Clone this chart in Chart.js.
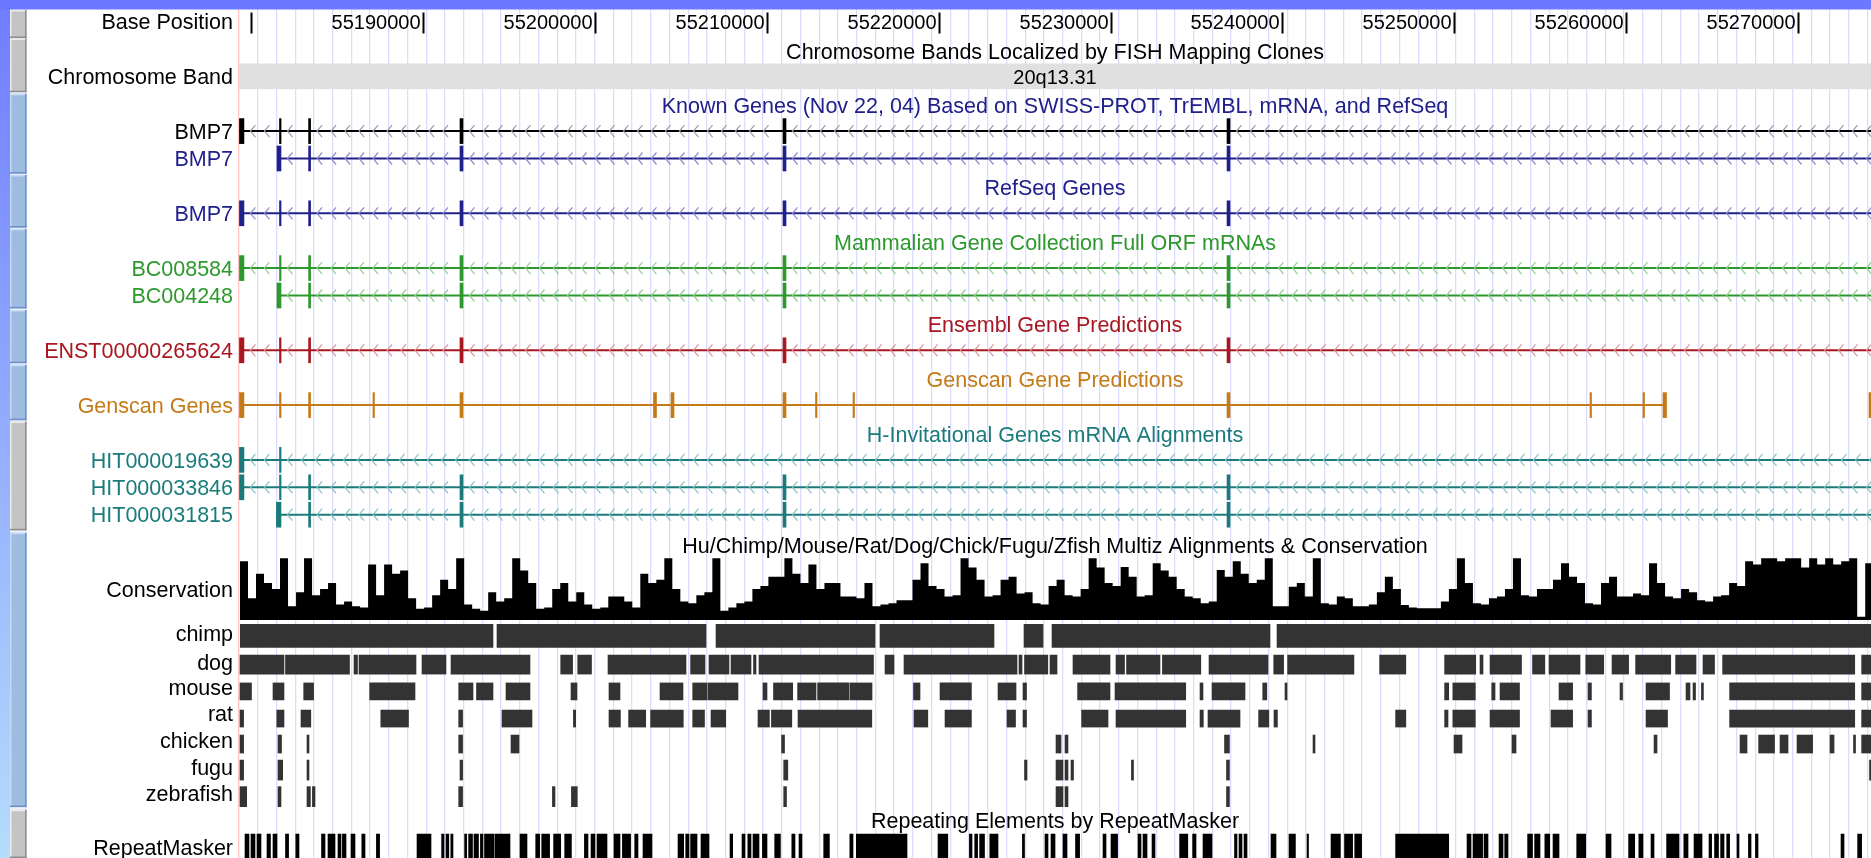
<!DOCTYPE html>
<html>
<head>
<meta charset="utf-8">
<script src="https://cdn.jsdelivr.net/npm/chart.js@4.4.1/dist/chart.umd.min.js"></script>
<style>
  html, body { margin: 0; padding: 0; background: #fff; overflow: hidden; }
  #wrap { width: 1871px; height: 858px; position: relative; }
</style>
</head>
<body>
<div id="wrap"><canvas id="browser"></canvas></div>
<script>
// window shown, chr20 (bp)
const viewStart = 55179273;
const viewEnd = 55274265;
const baseTicks = [55180000, 55190000, 55200000, 55210000, 55220000, 55230000, 55240000, 55250000, 55260000, 55270000];
const guideStep = 1089.5;

// cytoband
const bandName = '20q13.31';
const bandRange = [55000000, 55400000];

// gene models, exon blocks [start, end]
const bmp7Exons = [[55179300, 55179560], [55181630, 55181720], [55183324, 55183440], [55192136, 55192311], [55210937, 55211112], [55236781, 55236956]];
const bmp7ShortExons = [[55181484, 55181717], [55183324, 55183440], [55192136, 55192311], [55210937, 55211112], [55236781, 55236956]];
const bmp7TxEnd = 55275600;
const hit19639Exons = [[55179300, 55179560], [55181630, 55181720]];
const hit31815Exons = [[55181450, 55181717], [55183324, 55183440], [55192136, 55192311], [55210937, 55211112], [55236781, 55236956]];
const genscanExons = [[55179300, 55179560], [55181630, 55181720], [55183324, 55183440], [55187072, 55187159], [55192136, 55192311],
  [55203399, 55203574], [55204418, 55204593], [55210937, 55211112], [55212829, 55212916], [55215012, 55215099],
  [55236781, 55236956], [55257910, 55257997], [55260995, 55261082], [55262159, 55262363]];
const genscanNextExons = [[55274150, 55274400]];
const genscanNextEnd = 55276000;

// conservation score, one value per bin
const consStart = 55179331;
const consStep = 466;
const consValues = [
  0.95, 0.35, 0.75, 0.6, 0.5, 1.0, 0.22, 0.45, 1.0, 0.4, 0.5, 0.6, 0.25, 0.3, 0.22, 0.2, 0.9,
  0.4, 0.9, 0.75, 0.8, 0.35, 0.18, 0.2, 0.4, 0.65, 0.5, 1.0, 0.25, 0.18, 0.15, 0.45, 0.3,
  0.35, 1.0, 0.8, 0.6, 0.18, 0.2, 0.5, 0.6, 0.3, 0.45, 0.25, 0.18, 0.2, 0.38, 0.38, 0.3,
  0.2, 0.75, 0.6, 0.65, 1.0, 0.5, 0.3, 0.27, 0.4, 0.45, 1.0, 0.15, 0.2, 0.27, 0.3, 0.5,
  0.55, 0.7, 0.7, 1.0, 0.75, 0.6, 0.9, 0.5, 0.6, 0.6, 0.38, 0.38, 0.35, 0.6, 0.22, 0.25,
  0.27, 0.32, 0.32, 0.65, 0.92, 0.55, 0.5, 0.38, 0.4, 1.0, 0.85, 0.65, 0.38, 0.4, 0.65, 0.7,
  0.43, 0.45, 0.27, 0.25, 0.55, 0.65, 0.4, 0.38, 0.5, 1.0, 0.85, 0.6, 0.55, 0.86, 0.7, 0.38,
  0.4, 0.92, 0.8, 0.7, 0.5, 0.38, 0.35, 0.27, 0.3, 0.81, 0.7, 0.95, 0.75, 0.6, 0.65, 1.0,
  0.22, 0.22, 0.54, 0.6, 0.38, 1.0, 0.27, 0.25, 0.38, 0.35, 0.22, 0.22, 0.25, 0.45, 0.7, 0.5,
  0.24, 0.2, 0.19, 0.19, 0.19, 0.3, 0.5, 1.0, 0.6, 0.27, 0.25, 0.35, 0.38, 0.5, 1.0, 0.4,
  0.38, 0.5, 0.5, 0.65, 0.92, 0.7, 0.6, 0.27, 0.25, 0.6, 0.7, 0.38, 0.38, 0.43, 0.4, 0.92,
  0.6, 0.38, 0.35, 0.5, 0.45, 0.32, 0.3, 0.38, 0.4, 0.6, 0.55, 0.95, 0.9, 1.0, 1.0, 0.95,
  1.0, 1.0, 0.85, 1.0, 0.9, 1.0, 0.9, 0.95, 1.0, 0.05, 0.92
];

// multiz alignment blocks [start, end]
const chimpBlocks = [[55179350, 55194057], [55194290, 55206455], [55207038, 55216292], [55216583, 55223219],
  [55224965, 55226071], [55226595, 55239284], [55239692, 55275000]];
const dogBlocks = [[55179331, 55181892], [55181979, 55185705], [55185967, 55186171], [55186258, 55189575],
  [55189925, 55191322], [55191613, 55196211], [55197998, 55198691], [55198988, 55199791], [55200751, 55205291],
  [55205559, 55206397], [55206630, 55207794], [55207911, 55209075], [55209220, 55209366], [55209540, 55216205],
  [55216875, 55217398], [55217980, 55224558], [55224674, 55224849], [55224994, 55226351], [55226479, 55226886],
  [55227817, 55229971], [55230320, 55230815], [55230932, 55232881], [55233021, 55235256], [55235734, 55239168],
  [55239500, 55240076], [55240309, 55244168], [55245664, 55247189], [55249447, 55251258], [55251508, 55251682],
  [55252090, 55253923], [55254564, 55255280], [55255524, 55257328], [55257660, 55258708], [55259191, 55260157],
  [55260565, 55262608], [55262893, 55264080], [55264488, 55265157], [55265629, 55273318], [55273720, 55274400]];
const mouseBlocks = [[55179331, 55180000], [55181252, 55181892], [55183039, 55183615], [55186880, 55189517],
  [55192061, 55192893], [55193097, 55194057], [55194814, 55196211], [55198598, 55198947], [55200809, 55201450],
  [55203778, 55205117], [55205681, 55206514], [55206572, 55208318], [55209773, 55210006], [55210384, 55211502],
  [55211787, 55212858], [55212951, 55214779], [55214837, 55216118], [55218533, 55218912], [55220076, 55221904],
  [55223452, 55224500], [55224907, 55225111], [55228085, 55229971], [55230262, 55234378], [55235210, 55235384],
  [55235908, 55237829], [55238859, 55239098], [55240157, 55240274], [55249447, 55249686], [55249925, 55251234],
  [55252189, 55252381], [55252672, 55253807], [55256106, 55256898], [55257794, 55257992], [55259657, 55259802],
  [55261170, 55262538], [55263498, 55263731], [55263906, 55264051], [55264395, 55264511], [55266036, 55273318],
  [55273720, 55274400]];
const ratBlocks = [[55179331, 55179541], [55181473, 55181892], [55182882, 55183452], [55187527, 55189139],
  [55192061, 55192288], [55194581, 55196327], [55198737, 55198871], [55200809, 55201473], [55201950, 55202946],
  [55203231, 55205134], [55205681, 55206368], [55206747, 55207602], [55209482, 55210146], [55210262, 55211450],
  [55211811, 55216106], [55218563, 55219366], [55220367, 55221904], [55223976, 55224471], [55224907, 55225111],
  [55228318, 55229855], [55230320, 55234378], [55235210, 55235402], [55235675, 55237538], [55238621, 55239214],
  [55239517, 55239715], [55246595, 55247189], [55249447, 55249645], [55249925, 55251234], [55252090, 55253807],
  [55255640, 55256898], [55257794, 55257992], [55261170, 55262421], [55266036, 55273318], [55273720, 55274400]];
const chickenBlocks = [[55179331, 55179541], [55181543, 55181747], [55183231, 55183347], [55192061, 55192288],
  [55195105, 55195571], [55210856, 55211025], [55226828, 55227119], [55227352, 55227526], [55236636, 55236921],
  [55241787, 55241904], [55249994, 55250460], [55253370, 55253603], [55261636, 55261810], [55266642, 55267049],
  [55267724, 55268650], [55268970, 55269435], [55269959, 55270867], [55271880, 55272113], [55273248, 55273364],
  [55273720, 55274400]];
const fuguBlocks = [[55179331, 55179541], [55181543, 55181816], [55183231, 55183347], [55192137, 55192288],
  [55210978, 55211217], [55224994, 55225140], [55226828, 55227235], [55227352, 55227526], [55227701, 55227847],
  [55231217, 55231339], [55236752, 55236921], [55274179, 55274400]];
const zebrafishBlocks = [[55179331, 55179721], [55181543, 55181717], [55183231, 55183429], [55183545, 55183697],
  [55192061, 55192288], [55197515, 55197666], [55198621, 55198964], [55210978, 55211141], [55226828, 55227235],
  [55227352, 55227526], [55236752, 55236921]];

// RepeatMasker elements [start, end]
const repeatBlocks = [[55179622, 55179855], [55179971, 55180204], [55180321, 55180553], [55180903, 55181106],
  [55181252, 55181485], [55181979, 55182160], [55182579, 55182765], [55184075, 55184279], [55184453, 55184861],
  [55185035, 55185210], [55185291, 55185501], [55185792, 55186025], [55186421, 55186607], [55187270, 55187457],
  [55189634, 55190449], [55191066, 55191205], [55191322, 55191485], [55191601, 55191729], [55192404, 55192527],
  [55192637, 55192864], [55192951, 55193213], [55193324, 55193475], [55193563, 55194116], [55194174, 55195047],
  [55195629, 55196036], [55196543, 55196776], [55196892, 55197352], [55197585, 55197998], [55198231, 55198621],
  [55199377, 55199587], [55199762, 55199994], [55200111, 55200693], [55201100, 55201450], [55201589, 55202067],
  [55202305, 55202497], [55202788, 55203312], [55204826, 55205157], [55205274, 55205466], [55205559, 55205932],
  [55206164, 55206630], [55207852, 55208009], [55208551, 55208726], [55208889, 55209075], [55209191, 55209540],
  [55209738, 55210006], [55210454, 55210786], [55211450, 55211636], [55211869, 55212043], [55213306, 55213638],
  [55214826, 55215012], [55215204, 55218155], [55219959, 55220530], [55221787, 55221939], [55222096, 55222264],
  [55222381, 55222666], [55222975, 55223452], [55224872, 55224994], [55226188, 55226362], [55226537, 55226770],
  [55227235, 55227468], [55227963, 55228202], [55229564, 55229738], [55230029, 55230413], [55231601, 55231776],
  [55231892, 55232125], [55232416, 55232590], [55234022, 55234500], [55234779, 55234977], [55235384, 55235908],
  [55237218, 55237363], [55237480, 55237654], [55237771, 55237945], [55239342, 55239633], [55240390, 55240763],
  [55241438, 55241525], [55242835, 55243382], [55243621, 55244092], [55244214, 55244616], [55246595, 55249686],
  [55250751, 55250984], [55251100, 55251659], [55251741, 55251973], [55252614, 55252846], [55252945, 55253137],
  [55254278, 55254564], [55254686, 55255000], [55255280, 55255565], [55255757, 55256106], [55257136, 55257660],
  [55258842, 55259133], [55260157, 55260512], [55260751, 55260995], [55261461, 55261636], [55262369, 55263091],
  [55263370, 55263615], [55263964, 55264430], [55264837, 55264989], [55265157, 55265390], [55265512, 55265710],
  [55265867, 55266036], [55266467, 55266583], [55267131, 55267282], [55267539, 55267689], [55272520, 55272695],
  [55273487, 55273720]];

// ---- layout (rows) ----
const W = 1871, H = 858;
const rowTop = 21.5, rowPitch = 27.4;
const yMin = -rowTop / rowPitch, yMax = (H - rowTop) / rowPitch;
const labelRight = 233;
const font = '"Liberation Sans", Arial, sans-serif';

const navy = '#20208c', green = '#2d992d', red = '#a8161f', orange = '#c47b17', teal = '#1b7b7b';

const geneTracks = [
  { row: 4, color: '#000000', arrow: '#9c9cac', exons: bmp7Exons, end: bmp7TxEnd },
  { row: 5, color: navy, arrow: '#8c8cca', exons: bmp7ShortExons, end: bmp7TxEnd },
  { row: 7, color: navy, arrow: '#8c8cca', exons: bmp7Exons, end: bmp7TxEnd },
  { row: 9, color: green, arrow: '#96cc96', exons: bmp7Exons, end: bmp7TxEnd },
  { row: 10, color: green, arrow: '#96cc96', exons: bmp7ShortExons, end: bmp7TxEnd },
  { row: 12, color: red, arrow: '#d9959b', exons: bmp7Exons, end: bmp7TxEnd },
  { row: 14, color: orange, arrow: null, exons: genscanExons, end: genscanExons[genscanExons.length - 1][1] },
  { row: 14, color: orange, arrow: null, exons: genscanNextExons, end: genscanNextEnd },
  { row: 16, color: teal, arrow: '#88c0c0', exons: hit19639Exons, end: bmp7TxEnd },
  { row: 17, color: teal, arrow: '#88c0c0', exons: bmp7Exons, end: bmp7TxEnd },
  { row: 18, color: teal, arrow: '#88c0c0', exons: hit31815Exons, end: bmp7TxEnd }
];

const speciesTracks = [
  { row: 22.42, thick: 23, color: '#333333', blocks: chimpBlocks },
  { row: 23.47, thick: 19, color: '#333333', blocks: dogBlocks },
  { row: 24.45, thick: 17, color: '#333333', blocks: mouseBlocks },
  { row: 25.44, thick: 17, color: '#333333', blocks: ratBlocks },
  { row: 26.37, thick: 18, color: '#333333', blocks: chickenBlocks },
  { row: 27.32, thick: 20, color: '#333333', blocks: fuguBlocks },
  { row: 28.29, thick: 20, color: '#333333', blocks: zebrafishBlocks },
  { row: 30.13, thick: 26, color: '#000000', blocks: repeatBlocks }
];
const consTop = 19.59, consBase = 21.84;

const trackLabels = [
  ['Base Position', 0, '#000'], ['Chromosome Band', 2, '#000'],
  ['BMP7', 4, '#000'], ['BMP7', 5, navy], ['BMP7', 7, navy],
  ['BC008584', 9, green], ['BC004248', 10, green], ['ENST00000265624', 12, red],
  ['Genscan Genes', 14, orange],
  ['HIT000019639', 16, teal], ['HIT000033846', 17, teal], ['HIT000031815', 18, teal],
  ['Conservation', 20.71, '#000'], ['chimp', 22.32, '#000'], ['dog', 23.38, '#000'], ['mouse', 24.29, '#000'],
  ['rat', 25.24, '#000'], ['chicken', 26.22, '#000'], ['fugu', 27.21, '#000'], ['zebrafish', 28.16, '#000'],
  ['RepeatMasker', 30.13, '#000']
];
const trackTitles = [
  ['Chromosome Bands Localized by FISH Mapping Clones', 1.07, '#000'],
  ['Known Genes (Nov 22, 04) Based on SWISS-PROT, TrEMBL, mRNA, and RefSeq', 3.05, navy],
  ['RefSeq Genes', 6.05, navy],
  ['Mammalian Gene Collection Full ORF mRNAs', 8.05, green],
  ['Ensembl Gene Predictions', 11.05, red],
  ['Genscan Gene Predictions', 13.06, orange],
  ['H-Invitational Genes mRNA Alignments', 15.07, teal],
  ['Hu/Chimp/Mouse/Rat/Dog/Chick/Fugu/Zfish Multiz Alignments & Conservation', 19.1, '#000'],
  ['Repeating Elements by RepeatMasker', 29.17, '#000']
];
const sideButtons = [
  [-0.45, 0.6, 'g'], [0.62, 2.58, 'g'], [2.64, 5.55, 'b'], [5.6, 7.52, 'b'], [7.57, 10.47, 'b'],
  [10.53, 12.47, 'b'], [12.53, 14.55, 'b'], [14.6, 18.57, 'g'], [18.66, 28.67, 'b'], [28.77, 32, 'g']
];

// conservation axis so that 0 sits on consBase and 1 on consTop
const rowPx = r => (r - yMin) / (yMax - yMin) * H;
const cp0 = rowPx(consBase), cp1 = rowPx(consTop);
const consMax = cp0 / (cp0 - cp1), consMin = consMax - H / (cp0 - cp1);

// ---- datasets ----
const datasets = [];
const blockData = (list, row) => list.map(b => ({ y: row, x: [b[0], b[1]] }));
const hbar = (data, color, thick) => ({
  type: 'bar', indexAxis: 'y', data, backgroundColor: color, barThickness: thick,
  grouped: false, borderWidth: 0, xAxisID: 'x', yAxisID: 'y'
});

// exons on top of intron lines
geneTracks.forEach(g => datasets.push(hbar(blockData(g.exons, g.row), g.color, 25)));
geneTracks.forEach(g => datasets.push({
  type: 'line', data: [{ x: g.exons[0][0], y: g.row }, { x: g.end, y: g.row }],
  borderColor: g.color, borderWidth: 2, pointRadius: 0, fill: false, xAxisID: 'x', yAxisID: 'y'
}));
speciesTracks.forEach(t => datasets.push(hbar(blockData(t.blocks, t.row), t.color, t.thick)));
datasets.push(hbar([{ y: 2, x: bandRange }], '#e0e0e0', 25));

const consPoints = consValues.map((v, i) => ({ x: consStart + i * consStep, y: v }));
consPoints.push({ x: consStart + consValues.length * consStep, y: consValues[consValues.length - 1] });
datasets.push({
  type: 'line', data: consPoints, stepped: 'before', borderWidth: 0, borderColor: '#000',
  backgroundColor: '#000', fill: { value: 0 }, pointRadius: 0, xAxisID: 'x', yAxisID: 'yCons'
});

// ---- drawing of the browser chrome ----
const decor = {
  id: 'decor',
  beforeDraw(chart) {
    const c = chart.ctx;
    c.save(); c.fillStyle = '#fff'; c.fillRect(0, 0, chart.width, chart.height); c.restore();
  },
  afterDatasetsDraw(chart) {
    const { ctx, chartArea: a, scales: { x, y } } = chart;
    ctx.save();
    ctx.beginPath(); ctx.rect(a.left, a.top, a.right - a.left, a.bottom - a.top); ctx.clip();

    // strand arrows in introns
    ctx.lineWidth = 1.2;
    geneTracks.forEach(g => {
      if (!g.arrow) return;
      const yc = y.getPixelForValue(g.row);
      ctx.strokeStyle = g.arrow;
      for (let i = 0; i < g.exons.length; i++) {
        const s = x.getPixelForValue(g.exons[i][1]) + 3;
        const e = (i + 1 < g.exons.length ? x.getPixelForValue(g.exons[i + 1][0]) : x.getPixelForValue(g.end)) - 3;
        for (let p = s + 6; p < e - 2 && p < a.right + 10; p += 14) {
          ctx.beginPath();
          ctx.moveTo(p + 2.5, yc - 6); ctx.lineTo(p - 2.5, yc); ctx.lineTo(p + 2.5, yc + 6);
          ctx.stroke();
        }
      }
    });

    // base position ruler
    const y0 = y.getPixelForValue(0);
    ctx.fillStyle = '#000'; ctx.strokeStyle = '#000'; ctx.lineWidth = 2;
    ctx.font = '20px ' + font; ctx.textAlign = 'right';
    baseTicks.forEach(t => {
      const px = Math.round(x.getPixelForValue(t)) + 0.5;
      ctx.beginPath(); ctx.moveTo(px, y0 - 9); ctx.lineTo(px, y0 + 12); ctx.stroke();
      const w = ctx.measureText(String(t)).width;
      if (px - 3 - w > a.left) ctx.fillText(String(t), px - 3, y0 + 7.5);
    });

    // band name
    ctx.textAlign = 'center';
    ctx.fillText(bandName, (a.left + a.right) / 2, y.getPixelForValue(2) + 7.5);

    // track titles
    ctx.font = '21.5px ' + font;
    trackTitles.forEach(([t, r, c]) => {
      ctx.fillStyle = c;
      ctx.fillText(t, (a.left + a.right) / 2, y.getPixelForValue(r) + 7.7);
    });
    ctx.restore();

    // left labels
    ctx.save();
    ctx.font = '21.5px ' + font; ctx.textAlign = 'right';
    trackLabels.forEach(([t, r, c]) => {
      ctx.fillStyle = c;
      ctx.fillText(t, labelRight, y.getPixelForValue(r) + 7.7);
    });
    ctx.restore();
  },
  afterDraw(chart) {
    const { ctx, scales: { y } } = chart;
    ctx.save();
    // side strip
    const grad = ctx.createLinearGradient(0, 0, 0, H);
    grad.addColorStop(0, '#6f7dff'); grad.addColorStop(1, '#b6dcfc');
    ctx.fillStyle = grad; ctx.fillRect(0, 0, 10, H);
    ctx.fillStyle = '#eef3ff'; ctx.fillRect(10, 0, 17, H);
    sideButtons.forEach(([r0, r1, k]) => {
      const t = Math.max(y.getPixelForValue(r0), 10), b = Math.min(y.getPixelForValue(r1), H);
      ctx.fillStyle = k === 'g' ? '#c4c4c4' : '#9ebbe2';
      ctx.fillRect(10, t, 16.5, b - t);
      ctx.fillStyle = k === 'g' ? '#ececec' : '#c6d9f2';
      ctx.fillRect(10, t, 16.5, 1.5); ctx.fillRect(10, t, 1.5, b - t);
      ctx.fillStyle = k === 'g' ? '#8e8e8e' : '#6f8fc4';
      ctx.fillRect(25, t, 1.5, b - t); ctx.fillRect(10, b - 1.5, 16.5, 1.5);
    });
    // top bar
    ctx.fillStyle = '#6b78ff'; ctx.fillRect(0, 0, W, 9.5);
    ctx.restore();
  }
};

new Chart(document.getElementById('browser'), {
  data: { datasets },
  options: {
    responsive: true, maintainAspectRatio: false, animation: false, devicePixelRatio: 1,
    layout: { padding: { left: 239, right: 0, top: 0, bottom: 0 } },
    plugins: { legend: { display: false }, tooltip: { enabled: false } },
    scales: {
      x: {
        type: 'linear', min: viewStart, max: viewEnd, bounds: 'data', offset: false,
        ticks: { display: false }, border: { display: false },
        grid: { offset: false, drawTicks: false, lineWidth: 1.3, color: c => c.index === 0 ? '#ffc4c4' : '#dcdcff' },
        afterBuildTicks: s => {
          const tk = [];
          for (let v = viewStart; v <= viewEnd; v += guideStep) tk.push({ value: v });
          s.ticks = tk;
        }
      },
      y: { type: 'linear', reverse: true, min: yMin, max: yMax, bounds: 'data', offset: false, grid: { offset: false }, display: false },
      yCons: { type: 'linear', min: consMin, max: consMax, bounds: 'data', offset: false, display: false }
    }
  },
  plugins: [decor]
});
</script>
</body>
</html>
